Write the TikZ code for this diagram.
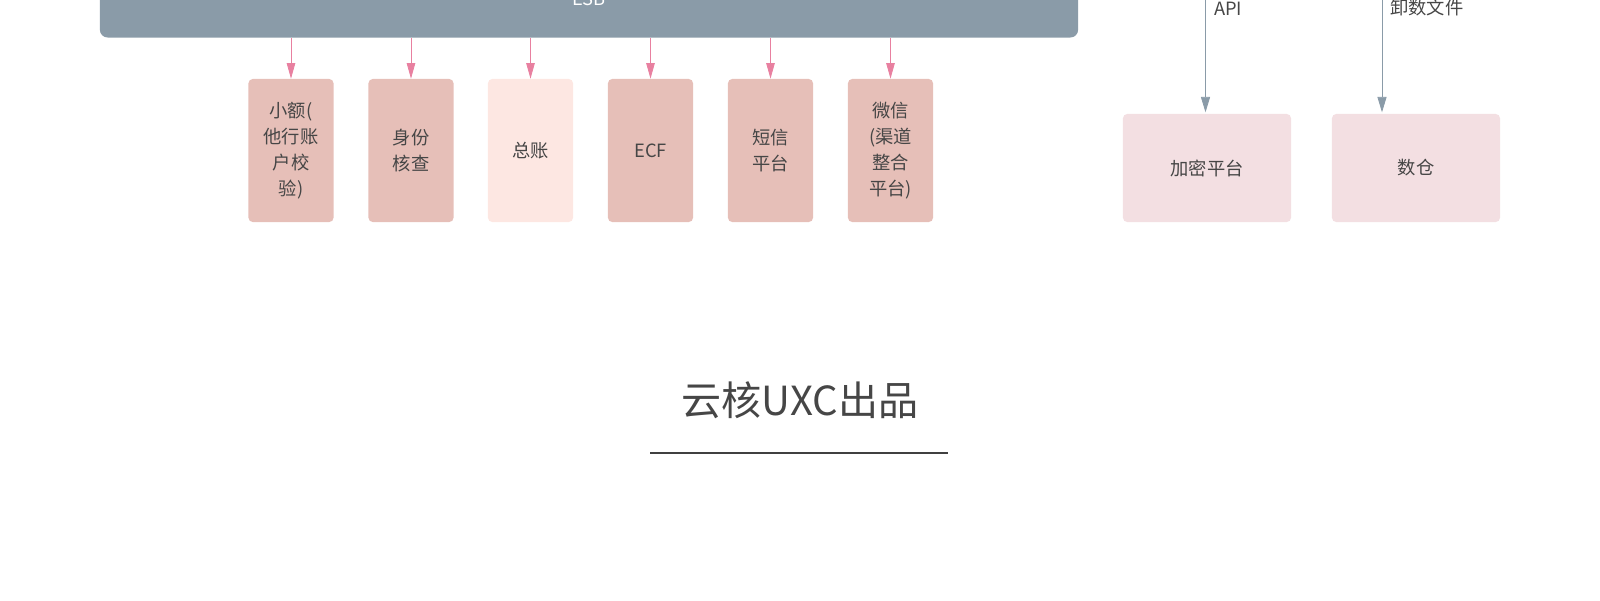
\documentclass[tikz,border=0pt]{standalone}
\usepackage{fontspec}
\setmainfont{Noto Sans CJK SC}
\usetikzlibrary{arrows.meta,positioning}

\definecolor{esbgray}{RGB}{138,155,168}
\definecolor{sysrose}{RGB}{230,191,184}
\definecolor{syslite}{RGB}{253,231,226}
\definecolor{extpink}{RGB}{243,223,226}
\definecolor{linkpink}{RGB}{232,128,160}
\definecolor{txtgray}{RGB}{70,70,70}

\begin{document}
\begin{tikzpicture}[
	% pixel grid: x→E, y→S
	x=0.025cm,
	y=-0.025cm,
	font=\fontsize{13}{18.5}\selectfont,
	bus/.style={fill=esbgray,rounded corners=5.5pt,minimum width=24.45cm,minimum height=1.925cm,inner sep=0pt,text=white},
	sys/.style={fill=sysrose,rounded corners=3pt,minimum width=2.125cm,minimum height=3.575cm,inner sep=0pt,align=center,text=txtgray},
	syslight/.style={sys,fill=syslite},
	ext/.style={fill=extpink,rounded corners=3pt,minimum width=4.2cm,minimum height=2.7cm,inner sep=0pt,text=txtgray},
	link/.style={-{Triangle[length=11pt,width=6pt]},linkpink,semithick},
	feed/.style={-{Triangle[length=11pt,width=6.5pt]},esbgray,semithick,shorten >=1pt},
	lbl/.style={text=txtgray,inner sep=0pt},
	rule/.style={black!75,line width=1.5pt}
	]
	\useasboundingbox (0,0) rectangle (1600,600);
	\clip (0,0) rectangle (1600,600);
	
	%
	% ESB bus and the systems behind it
	%
	\node[bus] (esb) at (589,-1) {ESB};
	\foreach \nm/\x/\fc/\t in {small/291/sys/{小额(\\他行账\\户校\\验)},
		idv/411/sys/{身份\\核查},
		gl/530.5/syslight/{总账},
		ecf/650.5/sys/{ECF},
		sms/770.5/sys/{短信\\平台},
		wx/890.5/sys/{微信\\(渠道\\整合\\平台)}}{
		\node[\fc] (\nm) at (\x,150.5) {\t};
		\draw[link] (esb.south -| \nm) -- (\nm);
	}
	
	%
	% right side: encryption and data warehouse
	%
	\node[ext] (enc) at (1207,168) {加密平台};
	\node[ext] (dw) at (1416,168) {数仓};
	\coordinate (apitop) at (1205.5,-2);
	\coordinate (dwtop) at (1382,-2);
	\draw[feed] (apitop) -- (apitop |- enc.north);
	\draw[feed] (dwtop) -- (dwtop |- dw.north);
	\node[lbl,anchor=west] (apilbl) at (1214,8.5) {API};
	\node[lbl,anchor=west] (dwlbl) at (1390,8) {卸数文件};
	
	%
	% footer
	%
	\node[text=txtgray,font=\fontsize{28.5}{34}\selectfont] (brand) at (800,400) {云核UXC出品};
	\coordinate (rulel) at (650,453);
	\coordinate (ruler) at (948,453);
	\draw[rule] (rulel) -- (ruler);
\end{tikzpicture}
\end{document}
